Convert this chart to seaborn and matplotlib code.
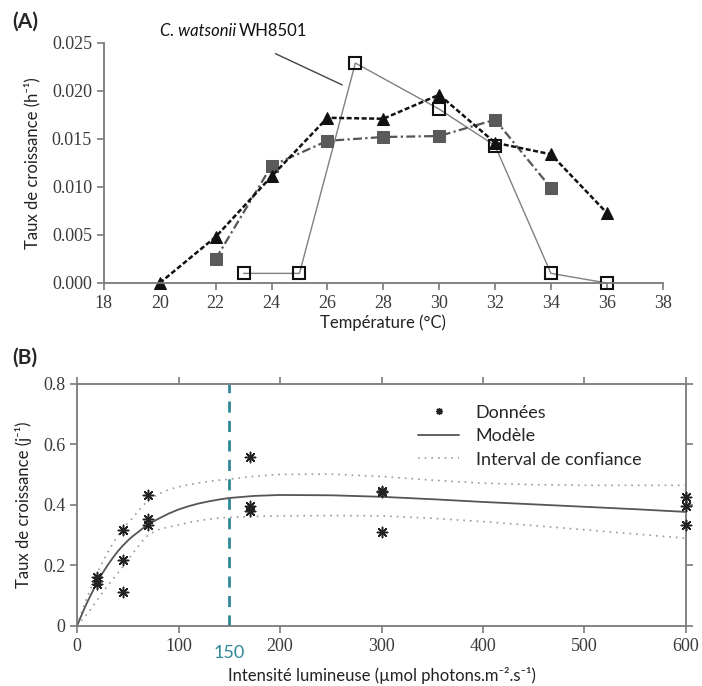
import matplotlib
matplotlib.use("Agg")
import matplotlib.pyplot as plt
import seaborn as sns
from matplotlib.ticker import FuncFormatter

# Panel A: growth rate vs temperature
temp_tri = [20, 22, 24, 26, 28, 30, 32, 34, 36]
rate_tri = [0.0, 0.0048, 0.0111, 0.0172, 0.0171, 0.0196, 0.0146, 0.0134, 0.0073]
temp_gsq = [22, 24, 26, 28, 30, 32, 34]
rate_gsq = [0.0025, 0.0122, 0.0148, 0.0152, 0.0153, 0.0170, 0.0099]
temp_osq = [23, 25, 27, 30, 32, 34, 36]
rate_osq = [0.0010, 0.0010, 0.0229, 0.0181, 0.0143, 0.0010, 0.0000]

# Panel B: growth rate vs light intensity
light_obs = [20, 20, 20, 45, 45, 45, 70, 70, 70, 170, 170, 170, 300, 300, 300, 600, 600, 600]
rate_obs = [0.163, 0.150, 0.140, 0.317, 0.218, 0.113, 0.434, 0.354, 0.335,
            0.557, 0.397, 0.379, 0.447, 0.442, 0.310, 0.426, 0.397, 0.334]
light_fit = [0, 5, 10, 15, 20, 25, 30, 35, 40, 45, 50, 55, 60, 65, 70, 75, 80, 90,
             100, 110, 120, 130, 140, 150, 175, 200, 250, 300, 350, 400, 450, 500, 550, 600]
model_fit = [0.0, 0.040, 0.078, 0.112, 0.145, 0.174, 0.200, 0.224, 0.246, 0.265, 0.282,
             0.297, 0.310, 0.323, 0.335, 0.345, 0.354, 0.371, 0.385, 0.396, 0.405,
             0.412, 0.418, 0.423, 0.430, 0.433, 0.432, 0.427, 0.419, 0.410, 0.402,
             0.394, 0.386, 0.377]
upper_fit = [0.0, 0.050, 0.095, 0.136, 0.175, 0.210, 0.242, 0.271, 0.297, 0.320, 0.340,
             0.358, 0.378, 0.398, 0.415, 0.426, 0.436, 0.450, 0.460, 0.467, 0.473,
             0.478, 0.482, 0.485, 0.495, 0.501, 0.502, 0.494, 0.482, 0.472, 0.467,
             0.465, 0.465, 0.465]
lower_fit = [0.0, 0.020, 0.040, 0.062, 0.086, 0.110, 0.132, 0.153, 0.174, 0.195, 0.218,
             0.240, 0.262, 0.283, 0.300, 0.310, 0.318, 0.327, 0.334, 0.342, 0.348,
             0.353, 0.357, 0.359, 0.362, 0.364, 0.365, 0.364, 0.356, 0.345, 0.332,
             0.318, 0.304, 0.290]
light_sat = 150

sns.set_theme(style="ticks")
plt.rcParams["font.family"] = ["Lato", "DejaVu Sans"]
plt.rcParams["font.serif"] = ["Liberation Serif", "DejaVu Serif"]

SPINE = "#7a7a7a"
TEAL = "#2f8797"


def serif_ticks(ax):
    for lab in ax.get_xticklabels() + ax.get_yticklabels():
        lab.set_fontfamily("serif")
        lab.set_fontsize(13)
        lab.set_color("#3a3a3a")


fig = plt.figure(figsize=(7.02, 6.86), dpi=100)

# ---------- (A) ----------
axA = fig.add_axes([0.148, 0.5875, 0.796, 0.350])
sns.lineplot(x=temp_osq, y=rate_osq, ax=axA, color="#808080", lw=1.0,
             marker="s", markersize=9, markerfacecolor="none",
             markeredgecolor="#111111", markeredgewidth=1.5, clip_on=False)
sns.lineplot(x=temp_gsq, y=rate_gsq, ax=axA, color="#555555", lw=1.6,
             linestyle=(0, (4, 1.5, 1, 1.5)), marker="s", markersize=8,
             markerfacecolor="#5a5a5a", markeredgecolor="#5a5a5a", clip_on=False)
sns.lineplot(x=temp_tri, y=rate_tri, ax=axA, color="#111111", lw=1.8,
             linestyle=(0, (2, 1)), marker="^", markersize=8,
             markerfacecolor="#111111", markeredgecolor="#111111", clip_on=False)

axA.set_xlim(18, 38)
axA.set_ylim(0, 0.025)
axA.set_xticks(range(18, 39, 2))
axA.set_yticks([0, 0.005, 0.010, 0.015, 0.020, 0.025])
axA.yaxis.set_major_formatter(FuncFormatter(lambda v, p: f"{v:.3f}"))
sns.despine(ax=axA)
for s in ["left", "bottom"]:
    axA.spines[s].set_color(SPINE)
    axA.spines[s].set_linewidth(1.3)
axA.tick_params(colors=SPINE, length=5, width=1.2, labelcolor="#3a3a3a", labelsize=13)
axA.set_xlabel("Température (°C)", fontsize=12, color="#222222", labelpad=2)
axA.set_ylabel("Taux de croissance (h⁻¹)", fontsize=12, color="#222222", labelpad=8)

t1 = axA.text(20.0, 0.0262, "C. watsonii", fontsize=12, style="italic",
              color="#111111", va="center", ha="left", clip_on=False)
axA.annotate("WH8501", xy=(1, 0.5), xycoords=t1, xytext=(2, 0),
             textcoords="offset points", va="center", ha="left",
             fontsize=12, color="#111111")
axA.annotate("", xy=(26.62, 0.0205), xytext=(24.05, 0.0240),
             arrowprops=dict(arrowstyle="-", color="#444444", lw=1.0))

# ---------- (B) ----------
axB = fig.add_axes([0.1097, 0.0875, 0.8675, 0.3528])
axB.axvline(light_sat, color=TEAL, lw=2.0, linestyle=(0, (4, 3)), zorder=1)
sns.lineplot(x=light_fit, y=upper_fit, ax=axB, color="#9a9a9a", lw=1.2,
             linestyle=(0, (1, 3)), label="_nolegend_")
sns.lineplot(x=light_fit, y=lower_fit, ax=axB, color="#9a9a9a", lw=1.2,
             linestyle=(0, (1, 3)), label="_nolegend_")
sns.lineplot(x=light_fit, y=model_fit, ax=axB, color="#555555", lw=1.3,
             label="_nolegend_")
sns.scatterplot(x=light_obs, y=rate_obs, ax=axB, marker=(8, 2, 0), s=55,
                color="#222222", linewidth=1.1, zorder=5, label="_nolegend_",
                clip_on=False)

axB.set_xlim(0, 600)
axB.set_ylim(0, 0.8)
axB.set_xticks(range(0, 601, 100))
axB.set_yticks([0, 0.2, 0.4, 0.6, 0.8])
axB.yaxis.set_major_formatter(FuncFormatter(lambda v, p: f"{v:g}"))
axB.tick_params(top=True, right=True, colors=SPINE, length=5, width=1.2,
                labelcolor="#3a3a3a", labelsize=13)
for s in axB.spines.values():
    s.set_color(SPINE)
    s.set_linewidth(1.3)
axB.set_xlabel("Intensité lumineuse (µmol photons.m⁻².s⁻¹)",
               fontsize=12, color="#222222", labelpad=9)
axB.set_ylabel("Taux de croissance (j⁻¹)", fontsize=12, color="#222222", labelpad=8)
axB.text(light_sat, -0.09, str(light_sat), color=TEAL, fontsize=13,
         ha="center", va="center", clip_on=False)

h_obs = plt.Line2D([], [], marker=(8, 2, 0), ls="none", color="#222222", markersize=5)
h_mod = plt.Line2D([], [], color="#555555", lw=1.3)
h_ci = plt.Line2D([], [], color="#9a9a9a", lw=1.2, ls=(0, (1, 3)))
axB.legend([h_obs, h_mod, h_ci], ["Données", "Modèle", "Interval de confiance"],
           loc="upper left", bbox_to_anchor=(0.533, 0.982), frameon=False,
           fontsize=13, handlelength=2.3, handletextpad=0.9, labelspacing=0.42)

fig.text(0.018, 0.968, "(A)", fontsize=15, fontweight="bold", va="center")
fig.text(0.018, 0.478, "(B)", fontsize=15, fontweight="bold", va="center")

fig.canvas.draw()
serif_ticks(axA)
serif_ticks(axB)

fig.savefig("out.png", dpi=100)
